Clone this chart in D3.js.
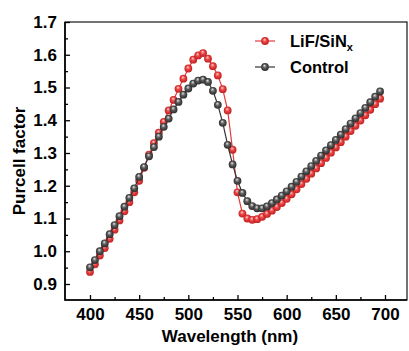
<!DOCTYPE html>
<html>
<head>
<meta charset="utf-8">
<script src="https://cdn.jsdelivr.net/npm/d3@7"></script>
<style>
  body { margin: 0; background: #fff; }
  svg text { font-family: "Liberation Sans", Arial, sans-serif; font-weight: bold; fill: #000; }
</style>
</head>
<body>
<div id="chart"></div>
<script>
// wavelength grid, 400..695 nm every 5 nm
var wavelengths = d3.range(400, 700, 5);

var lifSinx = [0.937, 0.960, 0.987, 1.010, 1.038, 1.066, 1.094, 1.122, 1.150, 1.180,
               1.215, 1.255, 1.295, 1.330, 1.362, 1.395, 1.430, 1.462, 1.496, 1.527,
               1.558, 1.585, 1.598, 1.605, 1.588, 1.565, 1.537, 1.495, 1.430, 1.310,
               1.180, 1.115, 1.100, 1.096, 1.098, 1.105, 1.114, 1.124, 1.135, 1.147,
               1.160, 1.174, 1.189, 1.205, 1.221, 1.237, 1.253, 1.269, 1.285, 1.301,
               1.317, 1.333, 1.350, 1.367, 1.383, 1.399, 1.415, 1.432, 1.449, 1.466];

var control = [0.951, 0.973, 1.000, 1.024, 1.052, 1.080, 1.107, 1.136, 1.163, 1.192,
               1.227, 1.257, 1.290, 1.318, 1.350, 1.380, 1.405, 1.433, 1.456, 1.478,
               1.497, 1.512, 1.521, 1.524, 1.517, 1.490, 1.447, 1.392, 1.325, 1.265,
               1.215, 1.178, 1.153, 1.138, 1.131, 1.131, 1.137, 1.147, 1.158, 1.170,
               1.183, 1.197, 1.212, 1.228, 1.244, 1.260, 1.276, 1.292, 1.308, 1.324,
               1.340, 1.356, 1.373, 1.390, 1.406, 1.422, 1.438, 1.455, 1.472, 1.488];

var xTicks = [400, 450, 500, 550, 600, 650, 700];
var xMinor = [425, 475, 525, 575, 625, 675];
var yTicks = [0.9, 1.0, 1.1, 1.2, 1.3, 1.4, 1.5, 1.6, 1.7];
var yMinor = [0.95, 1.05, 1.15, 1.25, 1.35, 1.45, 1.55, 1.65];

var width = 409, height = 351;
var box = {left: 65, right: 407, top: 22, bottom: 300};

var svg = d3.select("#chart").append("svg")
  .attr("width", width)
  .attr("height", height);

var x = d3.scaleLinear().domain([400, 700]).range([90, 385]);
var y = d3.scaleLinear().domain([0.9, 1.7]).range([284, 22]);

// sphere-looking markers
var defs = svg.append("defs");
function ball(id, c0, c1, c2) {
  var g = defs.append("radialGradient").attr("id", id)
    .attr("cx", "50%").attr("cy", "50%").attr("r", "55%")
    .attr("fx", "42%").attr("fy", "30%");
  g.append("stop").attr("offset", "0%").attr("stop-color", c0);
  g.append("stop").attr("offset", "45%").attr("stop-color", c1);
  g.append("stop").attr("offset", "100%").attr("stop-color", c2);
}
ball("gRed", "#fbd0d0", "#ec4242", "#b81c1c");
ball("gBlack", "#e6e6e6", "#5a5a5a", "#262626");

var series = [
  {name: "LiF/SiN", values: lifSinx, line: "#e53838", fill: "url(#gRed)"},
  {name: "Control", values: control, line: "#333333", fill: "url(#gBlack)"}
];

var line = d3.line()
  .x(function(d) { return x(d[0]); })
  .y(function(d) { return y(d[1]); });

series.forEach(function(s) {
  var pts = wavelengths.map(function(w, i) { return [w, s.values[i]]; });
  var g = svg.append("g");
  g.append("path")
    .attr("d", line(pts))
    .attr("fill", "none")
    .attr("stroke", s.line)
    .attr("stroke-width", 1.2);
  g.selectAll("circle")
    .data(pts)
    .enter().append("circle")
    .attr("cx", function(d) { return x(d[0]); })
    .attr("cy", function(d) { return y(d[1]); })
    .attr("r", 3.9)
    .attr("fill", s.fill);
});

// axes, ticks inward
svg.append("g")
  .attr("transform", "translate(0," + box.bottom + ")")
  .call(d3.axisBottom(x).tickValues(xTicks).tickSize(-5).tickSizeOuter(0).tickPadding(8));
svg.append("g")
  .attr("transform", "translate(0," + box.bottom + ")")
  .call(d3.axisBottom(x).tickValues(xMinor).tickSize(-3).tickFormat(""));

svg.append("g")
  .attr("transform", "translate(" + box.left + ",0)")
  .call(d3.axisLeft(y).tickValues(yTicks).tickSize(-5).tickSizeOuter(0).tickPadding(8)
    .tickFormat(d3.format(".1f")));
svg.append("g")
  .attr("transform", "translate(" + box.left + ",0)")
  .call(d3.axisLeft(y).tickValues(yMinor).tickSize(-3).tickFormat(""));

svg.selectAll(".domain").remove();
svg.selectAll(".tick line").attr("stroke", "#000").attr("stroke-width", 1.3);
svg.selectAll(".tick text").style("font-size", "17px");

// frame
svg.append("rect")
  .attr("x", box.left).attr("y", box.top)
  .attr("width", box.right - box.left).attr("height", box.bottom - box.top)
  .attr("fill", "none").attr("stroke", "#000").attr("stroke-width", 1.1);
svg.append("path")
  .attr("d", "M" + box.left + "," + box.top + "V" + box.bottom + "H" + box.right)
  .attr("fill", "none").attr("stroke", "#000").attr("stroke-width", 1.6);

// titles
svg.append("text")
  .attr("x", 230).attr("y", 342)
  .attr("text-anchor", "middle")
  .style("font-size", "17px")
  .text("Wavelength (nm)");

svg.append("text")
  .attr("transform", "translate(25,161) rotate(-90)")
  .attr("text-anchor", "middle")
  .style("font-size", "17px")
  .text("Purcell factor");

// legend
var legendY = [41, 67];
series.forEach(function(s, i) {
  var lg = svg.append("g").attr("transform", "translate(0," + legendY[i] + ")");
  lg.append("line")
    .attr("x1", 255).attr("x2", 275)
    .attr("stroke", s.line).attr("stroke-width", 1.2);
  lg.append("circle").attr("cx", 265).attr("r", 3.9).attr("fill", s.fill);
  var t = lg.append("text").attr("x", 290).attr("y", 6).style("font-size", "16.5px").text(s.name);
  if (i === 0) {
    t.append("tspan").attr("dy", 4).style("font-size", "11px").text("x");
  }
});
</script>
</body>
</html>
